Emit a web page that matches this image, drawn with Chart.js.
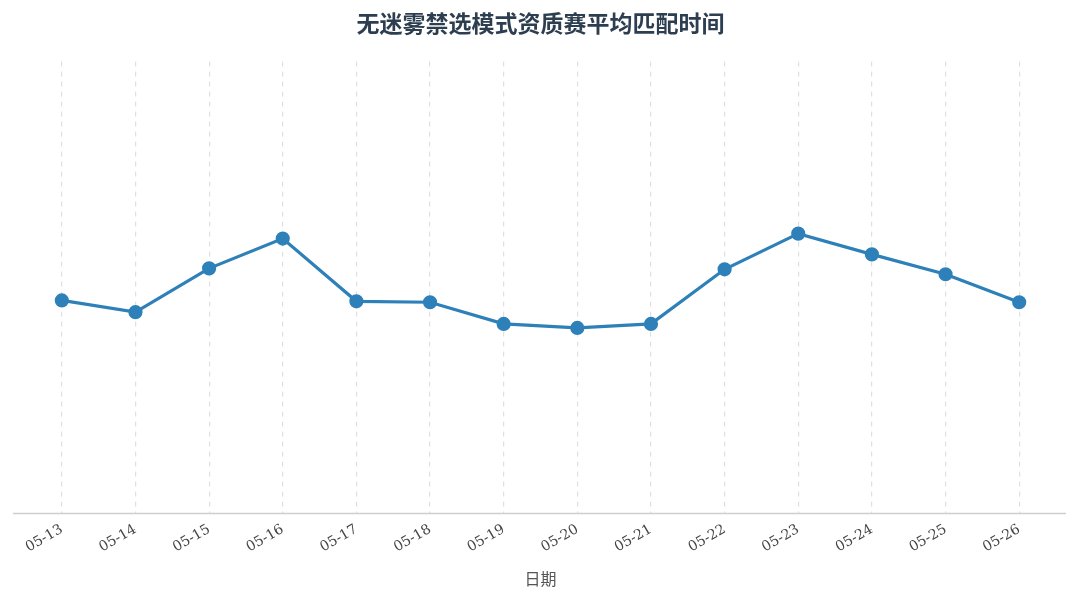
<!DOCTYPE html>
<html>
<head>
<meta charset="utf-8">
<script src="https://cdn.jsdelivr.net/npm/chart.js@4/dist/chart.umd.min.js"></script>
<style>
  html, body { margin: 0; padding: 0; background: #fff; }
  #wrap { width: 1080px; height: 603px; }
</style>
</head>
<body>
<div id="wrap"><canvas id="chart"></canvas></div>
<script>
const dates = ['05-13', '05-14', '05-15', '05-16', '05-17', '05-18', '05-19',
  '05-20', '05-21', '05-22', '05-23', '05-24', '05-25', '05-26'];
const avgWait = [47.1, 44.5, 54.2, 60.8, 46.9, 46.7, 41.9, 41.0, 41.9, 54.0, 61.9, 57.3, 52.9, 46.7];
const yMin = 0;
const yMax = 100;

const lineColor = '#2e80b9';

// bottom axis line, a bit wider than the plot area
const baseLine = {
  id: 'baseLine',
  afterDraw(chart) {
    const { ctx, chartArea } = chart;
    ctx.save();
    ctx.strokeStyle = '#cfcfcf';
    ctx.lineWidth = 1.5;
    ctx.beginPath();
    ctx.moveTo(chartArea.left - 12, chartArea.bottom + 0.5);
    ctx.lineTo(chartArea.right + 10, chartArea.bottom + 0.5);
    ctx.stroke();
    ctx.restore();
  }
};

new Chart(document.getElementById('chart'), {
  type: 'line',
  data: {
    labels: dates,
    datasets: [{
      label: '平均匹配时间',
      data: avgWait,
      borderColor: lineColor,
      backgroundColor: lineColor,
      borderWidth: 3.2,
      pointRadius: 5.5,
      pointBackgroundColor: lineColor,
      pointBorderColor: lineColor,
      tension: 0
    }]
  },
  options: {
    responsive: true,
    maintainAspectRatio: false,
    animation: false,
    layout: { padding: { left: 25, right: 24, top: 0, bottom: 10 } },
    plugins: {
      legend: { display: false },
      tooltip: { enabled: false },
      title: {
        display: true,
        text: '无迷雾禁选模式资质赛平均匹配时间',
        color: '#2c3e50',
        font: { family: '"Noto Sans CJK SC", serif', size: 23, weight: 'bold' },
        padding: { top: 9, bottom: 25 }
      }
    },
    scales: {
      x: {
        offset: true,
        border: { display: false, dash: [5, 5] },
        grid: {
          color: '#e0e0e0',
          lineWidth: 1.2,
          offset: false,
          drawTicks: false
        },
        ticks: {
          color: '#444',
          font: { family: '"DejaVu Serif", serif', size: 14 },
          maxRotation: 30,
          minRotation: 30,
          padding: 8
        },
        title: {
          display: true,
          text: '日期',
          color: '#555',
          font: { family: '"Noto Sans CJK SC", sans-serif', size: 16 },
          padding: { top: 6 }
        }
      },
      y: {
        display: false,
        min: yMin,
        max: yMax
      }
    }
  },
  plugins: [baseLine]
});
</script>
</body>
</html>
